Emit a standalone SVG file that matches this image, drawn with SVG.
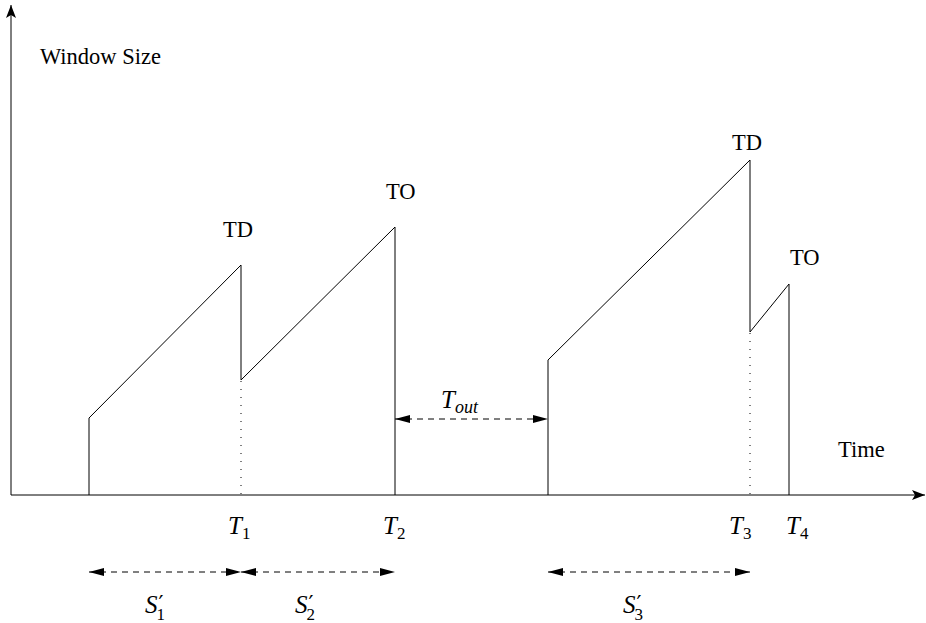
<svg xmlns="http://www.w3.org/2000/svg" width="926" height="623" viewBox="0 0 926 623">
<style>
.ln{fill:none;stroke:#000;stroke-width:1}
.dot{fill:none;stroke:#000;stroke-width:1;stroke-dasharray:1 7}
.dash{fill:none;stroke:#000;stroke-width:1;stroke-dasharray:6 5}
.t{font-family:"Liberation Serif","Times New Roman",serif;font-size:22.5px;fill:#000}
.m{font-family:"Liberation Serif","Times New Roman",serif;font-style:italic;font-size:25px;fill:#000}
.s{font-family:"Liberation Serif","Times New Roman",serif;font-style:normal;font-size:17px;fill:#000}
.p{font-family:"DejaVu Sans",sans-serif;font-style:normal;font-size:22px;fill:#000}
.si{font-family:"Liberation Serif","Times New Roman",serif;font-style:italic;font-size:18px;fill:#000}
</style>
<defs>
<marker id="ax" markerUnits="userSpaceOnUse" markerWidth="14" markerHeight="10" refX="13" refY="5" orient="auto">
<path d="M0,0 L13,5 L0,10 L3,5 z" fill="#000"/>
</marker>
<marker id="ah" markerUnits="userSpaceOnUse" markerWidth="16" markerHeight="8" refX="15" refY="4" orient="auto">
<path d="M0,0 L15,4 L0,8 z" fill="#000"/>
</marker>
<marker id="ahs" markerUnits="userSpaceOnUse" markerWidth="16" markerHeight="8" refX="0" refY="4" orient="auto">
<path d="M15,0 L0,4 L15,8 z" fill="#000"/>
</marker>
</defs>
<g id="axes">
<line class="ln" x1="11" y1="495" x2="11" y2="5" marker-end="url(#ax)"/>
<line class="ln" x1="11" y1="495" x2="925" y2="495" marker-end="url(#ax)"/>
<text class="t" x="40" y="64">Window Size</text>
<text class="t" x="838" y="457">Time</text>
</g>
<g id="wave1">
<polyline class="ln" points="89,495 89,418 241,265 241,380 395,227 395,495"/>
<line class="dot" x1="241" y1="381" x2="241" y2="495"/>
<text class="t" x="223" y="237">TD</text>
<text class="t" x="386" y="199">TO</text>
</g>
<g id="wave2">
<polyline class="ln" points="548,495 548,360 750,160 750,332 789,284 789,495"/>
<line class="dot" x1="750" y1="333" x2="750" y2="495"/>
<text class="t" x="732" y="150">TD</text>
<text class="t" x="790" y="265">TO</text>
</g>
<g id="connectors">
<line class="dash" x1="395" y1="419" x2="548" y2="419" marker-start="url(#ahs)" marker-end="url(#ah)"/>
<line class="dash" x1="89" y1="572" x2="241" y2="572" marker-start="url(#ahs)" marker-end="url(#ah)"/>
<line class="dash" x1="241" y1="572" x2="395" y2="572" marker-start="url(#ahs)" marker-end="url(#ah)"/>
<line class="dash" x1="548" y1="572" x2="750" y2="572" marker-start="url(#ahs)" marker-end="url(#ah)"/>
</g>
<g id="labels">
<text class="m" x="441" y="408">T<tspan class="si" dy="5">out</tspan></text>
<text class="m" x="228" y="534">T<tspan class="s" dy="5">1</tspan></text>
<text class="m" x="383" y="534">T<tspan class="s" dy="5">2</tspan></text>
<text class="m" x="729" y="534">T<tspan class="s" dy="5">3</tspan></text>
<text class="m" x="786" y="534">T<tspan class="s" dy="5">4</tspan></text>
<text class="m" x="145" y="613">S<tspan class="p" dx="1" dy="-2">′</tspan><tspan class="s" dx="-7" dy="9">1</tspan></text>
<text class="m" x="295" y="613">S<tspan class="p" dx="1" dy="-2">′</tspan><tspan class="s" dx="-7" dy="9">2</tspan></text>
<text class="m" x="623" y="613">S<tspan class="p" dx="1" dy="-2">′</tspan><tspan class="s" dx="-7" dy="9">3</tspan></text>
</g>
</svg>
